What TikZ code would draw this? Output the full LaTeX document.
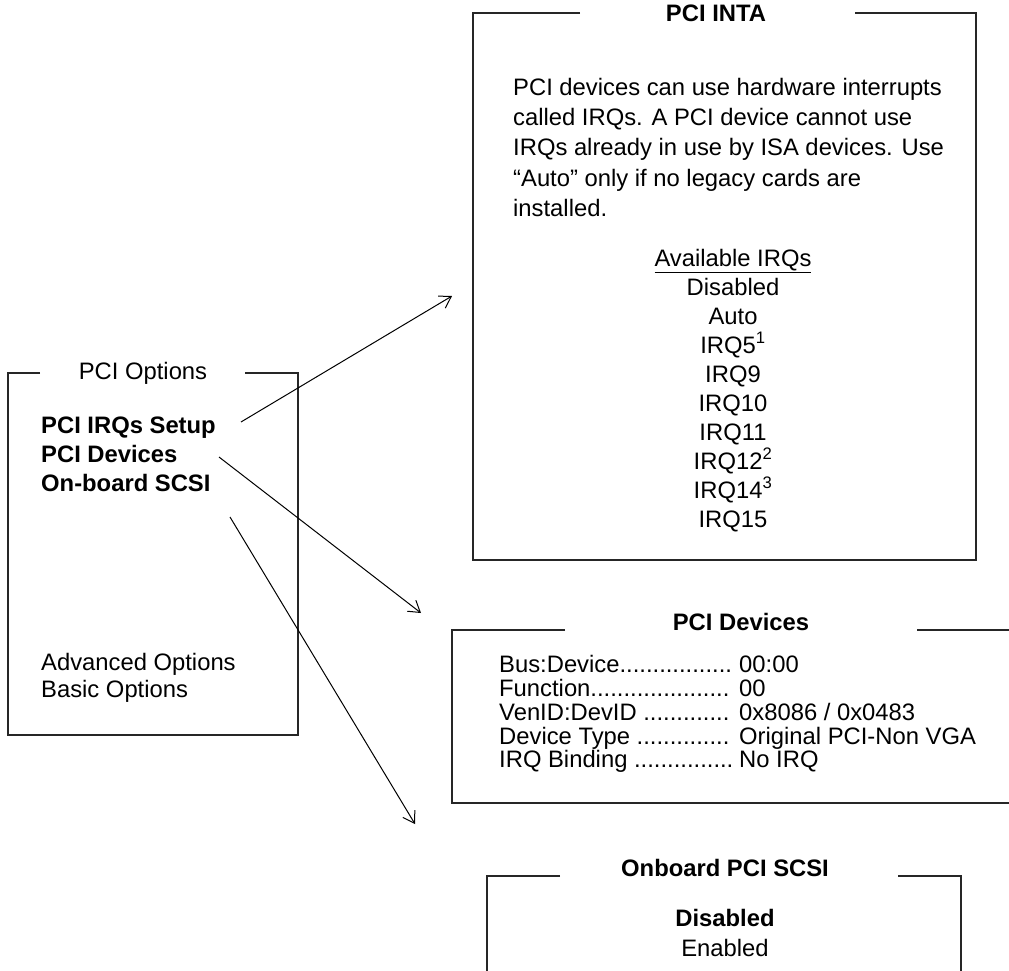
\documentclass[tikz,border=0pt]{standalone}
\usepackage{fontspec}
\setmainfont{Liberation Sans}
\usetikzlibrary{arrows.meta}
\begin{document}
\begin{tikzpicture}[x=1pt,y=-1pt,
  frame/.style={line width=1.3pt, draw=black!85},
  txt/.style={inner sep=0pt, font=\fontsize{23.8}{28}\selectfont},
  btxt/.style={inner sep=0pt, font=\fontsize{23.8}{28}\selectfont\bfseries},
  conn/.style={line width=1pt, -{Straight Barb[length=11pt,width=14pt,line width=1pt]}}]
\useasboundingbox (0,0) rectangle (1009,971);

% ---------- PCI Options box ----------
\draw[frame] (40,373) -- (8,373) -- (8,735) -- (298,735) -- (298,373) -- (245,373);
\node[txt] (optT) at (143,373) {PCI Options};
\node[btxt, anchor=base west] (o1) at (41,433) {PCI IRQs Setup};
\node[btxt, anchor=base west] (o2) at (41,462) {PCI Devices};
\node[btxt, anchor=base west] (o3) at (41,491) {On-board SCSI};
\node[txt, anchor=base west] (o4) at (41,670) {Advanced Options};
\node[txt, anchor=base west] (o5) at (41,697) {Basic Options};

% ---------- PCI INTA box ----------
\draw[frame] (580,13) -- (473,13) -- (473,560) -- (976,560) -- (976,13) -- (855,13);
\node[btxt] (intaT) at (716,13) {PCI INTA};
\node[txt, anchor=base west] (i1) at (513,96) {PCI devices can use hardware interrupts};
\node[txt, anchor=base west] (i2) at (513,126) {called IRQs. A PCI device cannot use};
\node[txt, anchor=base west] (i3) at (513,156) {IRQs already in use by ISA devices. Use};
\node[txt, anchor=base west] (i4) at (513,186) {“Auto” only if no legacy cards are};
\node[txt, anchor=base west] (i5) at (513,216) {installed.};
\node[txt, anchor=base] (q0) at (733,266) {\underline{Available IRQs}};
\node[txt, anchor=base] (q1) at (733,295) {Disabled};
\node[txt, anchor=base] (q2) at (733,324) {Auto};
\node[txt, anchor=base] (q3) at (733,353) {IRQ5\textsuperscript{1}};
\node[txt, anchor=base] (q4) at (733,382) {IRQ9};
\node[txt, anchor=base] (q5) at (733,411) {IRQ10};
\node[txt, anchor=base] (q6) at (733,440) {IRQ11};
\node[txt, anchor=base] (q7) at (733,469) {IRQ12\textsuperscript{2}};
\node[txt, anchor=base] (q8) at (733,498) {IRQ14\textsuperscript{3}};
\node[txt, anchor=base] (q9) at (733,527) {IRQ15};

% ---------- PCI Devices box ----------
\draw[frame] (565,630) -- (452,630) -- (452,803) -- (1012,803);
\draw[frame] (917,630) -- (1012,630);
\node[btxt, anchor=base] (devT) at (741,630) {PCI Devices};
\node[txt, anchor=base west] (d1) at (499,672) {Bus:Device.................};
\node[txt, anchor=base west] (d2) at (499,696) {Function.....................};
\node[txt, anchor=base west] (d3) at (499,720) {VenID:DevID .............};
\node[txt, anchor=base west] (d4) at (499,744) {Device Type ..............};
\node[txt, anchor=base west] (d5) at (499,767) {IRQ Binding ...............};
\node[txt, anchor=base west] (v1) at (739,672) {00:00};
\node[txt, anchor=base west] (v2) at (739,696) {00};
\node[txt, anchor=base west] (v3) at (739,720) {0x8086 / 0x0483};
\node[txt, anchor=base west] (v4) at (739,744) {Original PCI-Non VGA};
\node[txt, anchor=base west] (v5) at (739,767) {No IRQ};

% ---------- Onboard PCI SCSI box ----------
\draw[frame] (560,876) -- (487,876) -- (487,975);
\draw[frame] (898,876) -- (961,876) -- (961,975);
\node[btxt, anchor=base] (scT) at (725,876) {Onboard PCI SCSI};
\node[btxt, anchor=base] (s1) at (725,926) {Disabled};
\node[txt, anchor=base] (s2) at (725,956) {Enabled};

% ---------- connectors ----------
\coordinate (a1s) at (241,422);
\coordinate (a1e) at (452,296);
\coordinate (a2s) at (219,457);
\coordinate (a2e) at (421,613);
\coordinate (a3s) at (230,517);
\coordinate (a3e) at (415,824);
\draw[conn] (a1s) -- (a1e);
\draw[conn] (a2s) -- (a2e);
\draw[conn] (a3s) -- (a3e);
\end{tikzpicture}
\end{document}
